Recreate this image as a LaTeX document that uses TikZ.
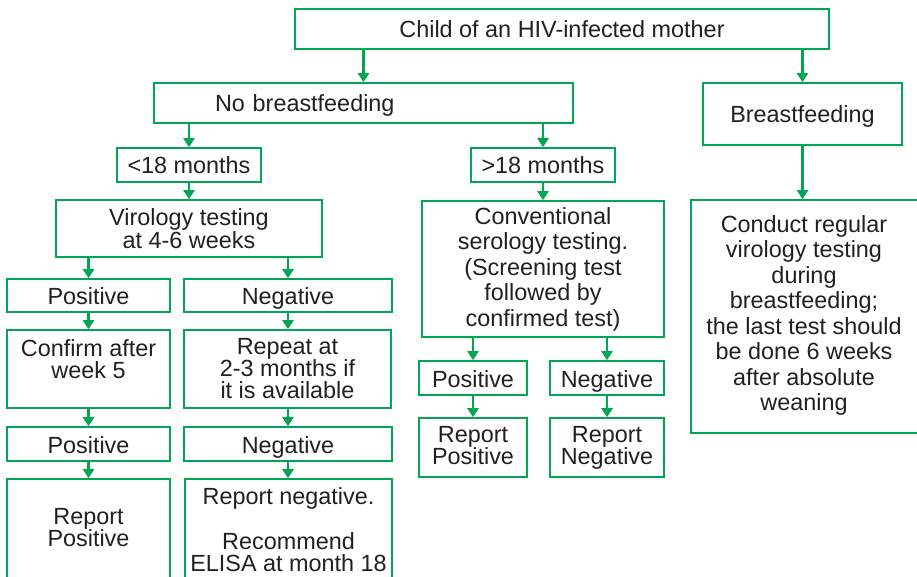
\documentclass[tikz,border=0pt]{standalone}
\usepackage{fontspec}
\setmainfont{Liberation Sans}
\usetikzlibrary{arrows.meta}
\definecolor{grn}{RGB}{0,166,81}
\definecolor{ink}{RGB}{35,31,32}
\begin{document}
\begin{tikzpicture}[x=1pt,y=-1pt,
  box/.style={draw=grn, line width=1.6pt, inner sep=0pt, align=center, text=ink,
    font=\fontsize{23.4}{22}\selectfont},
  one/.style={text height=18pt, text depth=0pt},
  bigbox/.style={box, font=\fontsize{23.4}{25.5}\selectfont},
  txt/.style={inner sep=0pt, align=center, text=ink, font=\fontsize{23.4}{22}\selectfont},
  arr/.style={draw=grn, line width=2.6pt, -{Triangle[length=9pt,width=11pt]}}]
\useasboundingbox (0,0) rectangle (917,577);

% top level
\node[box, one, minimum width=534pt, minimum height=40pt] (top) at (562,29) {Child of an HIV-infected mother};
\node[box, one, minimum width=419pt, minimum height=40pt, text width=297pt, inner xsep=61pt, align=left] (nobf) at (363.5,103) {No breastfeeding};
\node[box, one, minimum width=199pt, minimum height=62pt] (bf) at (802.5,114) {Breastfeeding};

% age
\node[box, one, minimum width=144pt, minimum height=34pt] (lt) at (189,165) {<18 months};
\node[box, one, minimum width=144pt, minimum height=34pt] (gt) at (543,165) {>18 months};

% second level
\node[box, minimum width=266pt, minimum height=57pt, font=\fontsize{23.4}{23}\selectfont] (vir) at (189,228.5) {Virology testing\\at 4-6 weeks};
\node[bigbox, minimum width=242pt, minimum height=136pt] (conv) at (543,269) {Conventional\\serology testing.\\(Screening test\\followed by\\confirmed test)};
\node[bigbox, minimum width=230pt, minimum height=233pt] (cond) at (806,316.5) {};
\node[txt, font=\fontsize{23.4}{25.5}\selectfont] (condt) at (804,315.5) {Conduct regular\\virology testing\\during\\breastfeeding;\\the last test should\\be done 6 weeks\\after absolute\\weaning};

% <18 branch
\node[box, one, minimum width=163pt, minimum height=33pt] (pos1) at (88.5,295.5) {Positive};
\node[box, one, minimum width=208pt, minimum height=33pt] (neg1) at (288,295.5) {Negative};
\node[box, minimum width=163pt, minimum height=78pt] (conf) at (88.5,369) {};
\node[txt] (conft) at (88.5,359) {Confirm after\\week 5};
\node[box, minimum width=207pt, minimum height=78pt] (rep) at (287.5,369) {Repeat at\\2-3 months if\\it is available};
\node[box, one, minimum width=163pt, minimum height=34pt] (pos2) at (88.5,444) {Positive};
\node[box, one, minimum width=208pt, minimum height=34pt] (neg2) at (288,444) {Negative};
\node[box, minimum width=163pt, minimum height=101pt] (rpos) at (88.5,529.5) {Report\\Positive\vphantom{g}};
\node[box, minimum width=207pt, minimum height=101pt, font=\fontsize{23.4}{22.5}\selectfont] (rneg) at (288.5,529.5) {Report negative.\\[22.5pt]Recommend\\ELISA at month 18};

% >18 branch
\node[box, one, minimum width=108pt, minimum height=34pt] (pos3) at (473,378) {Positive};
\node[box, one, minimum width=114pt, minimum height=34pt] (neg3) at (607,378) {Negative};
\node[box, minimum width=108pt, minimum height=59pt] (rpos3) at (473,447.5) {Report\\Positive\vphantom{g}};
\node[box, minimum width=114pt, minimum height=59pt] (rneg3) at (607,447.5) {Report\\Negative};

% connectors
\draw[arr] (top.south -| nobf.north) -- (nobf.north);
\draw[arr] (top.south -| bf.north) -- (bf.north);
\draw[arr] (nobf.south -| lt.north) -- (lt.north);
\draw[arr] (nobf.south -| gt.north) -- (gt.north);
\draw[arr] (lt.south) -- (vir.north);
\draw[arr] (gt.south) -- (conv.north);
\draw[arr] (bf.south) -- (bf.south |- cond.north);
\draw[arr] (vir.south -| pos1.north) -- (pos1.north);
\draw[arr] (vir.south -| neg1.north) -- (neg1.north);
\draw[arr] (pos1.south) -- (conf.north);
\draw[arr] (neg1.south) -- (neg1.south |- rep.north);
\draw[arr] (conf.south) -- (pos2.north);
\draw[arr] (rep.south -| neg2.north) -- (neg2.north);
\draw[arr] (pos2.south) -- (rpos.north);
\draw[arr] (neg2.south) -- (neg2.south |- rneg.north);
\draw[arr] (conv.south -| pos3.north) -- (pos3.north);
\draw[arr] (conv.south -| neg3.north) -- (neg3.north);
\draw[arr] (pos3.south) -- (rpos3.north);
\draw[arr] (neg3.south) -- (rneg3.north);
\end{tikzpicture}
\end{document}
